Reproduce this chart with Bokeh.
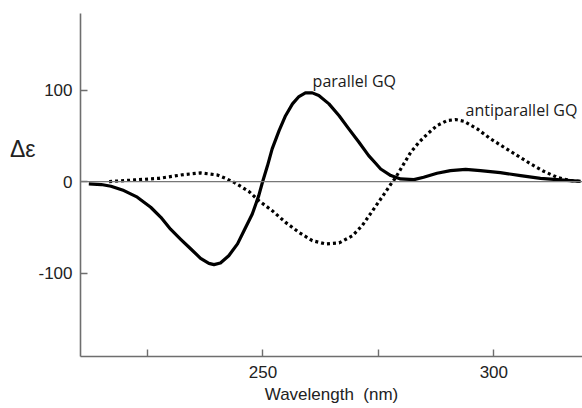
from bokeh.plotting import figure
from bokeh.models import Span, Range1d, FixedTicker, ColumnDataSource, LinearAxis
from bokeh.core.properties import value
from bokeh.embed import file_html
from bokeh.resources import INLINE

# CD spectra of G-quadruplex topologies (wavelength in nm, delta-epsilon)
parallel_nm = [212.3, 215.0, 217.1, 219.9, 222.8, 225.7, 227.9, 230.0, 232.2, 234.4,
               236.5, 238.3, 239.4, 240.8, 242.6, 244.5, 245.9, 247.7, 249.1, 249.9,
               251.0, 252.0, 253.5, 254.9, 256.4, 257.8, 259.2, 260.7, 262.1, 264.3,
               266.5, 268.6, 270.8, 272.9, 274.4, 275.5, 277.7, 279.8, 282.7, 284.8,
               287.7, 290.6, 293.9, 297.1, 301.4, 305.8, 310.1, 314.4, 318.8]
parallel_de = [-2.5, -3.2, -5.1, -9.8, -17.0, -28.0, -39.0, -52.0, -63.0, -73.6,
               -83.8, -89.3, -90.7, -88.9, -81.0, -68.0, -53.6, -35.3, -15.3, -0.7,
               17.5, 35.7, 55.7, 72.0, 84.9, 92.9, 96.9, 96.9, 94.0, 84.9,
               72.0, 57.6, 43.0, 28.4, 20.0, 13.8, 6.6, 2.9, 2.2, 4.7,
               9.1, 12.0, 13.4, 12.0, 9.8, 6.6, 3.6, 1.8, 0.3]

antiparallel_nm = [216.7, 222.1, 227.5, 232.9, 236.5, 240.1, 241.9, 243.7, 245.5, 247.0,
                   249.1, 252.0, 254.9, 257.8, 260.7, 263.6, 266.5, 269.4, 271.5, 273.3,
                   274.4, 275.5, 276.6, 277.6, 278.4, 279.1, 280.5, 282.0, 283.8, 285.6,
                   287.7, 289.9, 291.7, 293.5, 296.4, 299.3, 302.2, 305.1, 308.0, 310.8,
                   313.7, 316.6, 318.8]
antiparallel_de = [0.0, 1.8, 3.6, 7.7, 9.5, 7.3, 3.6, -0.7, -6.2, -10.9,
                   -20.8, -31.7, -44.5, -55.4, -64.5, -68.1, -67.0, -59.0, -48.0, -35.0,
                   -27.0, -19.0, -11.0, -3.5, 2.0, 7.5, 19.3, 32.0, 43.0, 52.0,
                   61.2, 66.7, 67.8, 65.9, 57.6, 46.7, 37.5, 28.4, 19.3, 11.3,
                   4.7, 1.1, 0.3]

y_ticks = [-100, 0, 100]
y_tick_labels = {-100: "-100", 0: "0", 100: "100"}
x_ticks = [225, 250, 275, 300]
x_tick_labels = {225: "", 250: "250", 275: "", 300: "300"}
y_title = "Δε"
y_title_at = 36

curve_labels = ["parallel GQ", "antiparallel GQ"]
curve_label_x = [260.76, 293.87]
curve_label_y = [110.4, 78.4]

p = figure(width=582, height=408, output_backend="svg", toolbar_location=None,
           x_range=Range1d(210.5, 319.2), y_range=Range1d(-191, 183.6),
           min_border_left=80, min_border_right=0, min_border_top=13, min_border_bottom=52)
p.outline_line_color = None
p.grid.visible = False
p.background_fill_color = "white"
p.border_fill_color = "white"

axis_color = "#6e6e6e"
for ax in (p.xaxis[0], p.yaxis[0]):
    ax.axis_line_color = axis_color
    ax.axis_line_width = 1.6
    ax.major_tick_line_color = axis_color
    ax.major_tick_line_width = 1.4
    ax.major_tick_in = 7
    ax.major_tick_out = 0
    ax.minor_tick_line_color = None
    ax.major_label_text_font = "Liberation Sans"
    ax.major_label_text_font_size = "17px"
    ax.major_label_text_color = "#222222"

p.xaxis.ticker = FixedTicker(ticks=x_ticks)
p.xaxis.major_label_overrides = x_tick_labels
p.xaxis.major_label_standoff = 9
p.xaxis.axis_label = "Wavelength\u00a0\u00a0(nm)"
p.xaxis.axis_label_text_font = "Liberation Sans"
p.xaxis.axis_label_text_font_style = "normal"
p.xaxis.axis_label_text_font_size = "17px"
p.xaxis.axis_label_text_color = "#222222"
p.xaxis.axis_label_standoff = 4

p.yaxis.ticker = FixedTicker(ticks=y_ticks)
p.yaxis.major_label_overrides = y_tick_labels
p.yaxis.major_label_standoff = 8

# horizontal y title, drawn as a bare outer axis carrying a single label
title_axis = LinearAxis(ticker=FixedTicker(ticks=[y_title_at]),
                        major_label_overrides={y_title_at: y_title},
                        axis_line_color=None, major_tick_line_color=None,
                        minor_tick_line_color=None, major_label_standoff=-6,
                        major_label_text_font="Liberation Sans",
                        major_label_text_font_size="23px",
                        major_label_text_color="#222222")
p.add_layout(title_axis, "left")

# baseline at zero
p.add_layout(Span(location=0, dimension="width", line_color="#777777", line_width=1.2))

p.line(antiparallel_nm, antiparallel_de, line_color="black", line_width=3.2,
       line_dash="3 3")
p.line(parallel_nm, parallel_de, line_color="black", line_width=3.2,
       line_join="round")

src = ColumnDataSource(dict(x=curve_label_x, y=curve_label_y, t=curve_labels))
p.text(x="x", y="y", text="t", source=src, text_font=value("Open Sans"),
       text_font_size="16px", text_color="#1a1a1a", text_align="left",
       text_baseline="alphabetic")

open("out.html", "w").write(file_html(p, INLINE))
